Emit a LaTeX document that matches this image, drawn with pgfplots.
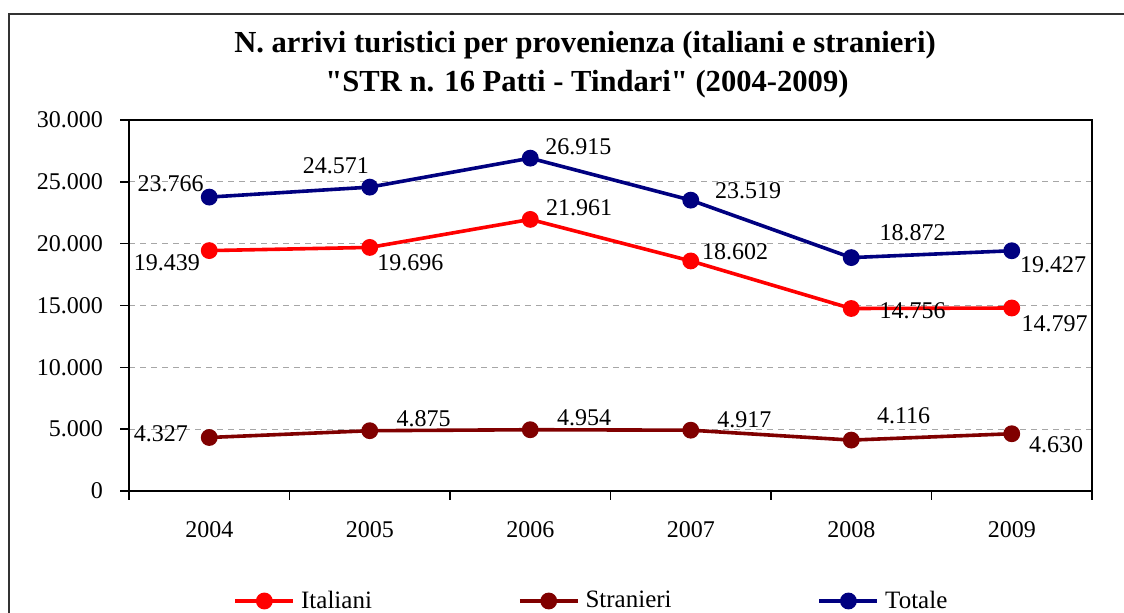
\documentclass[border=0pt]{standalone}
\usepackage{pgfplots}
\pgfplotsset{compat=1.18}
\usepackage{pgfplotstable}
\usepackage{fontspec}
\setmainfont{Liberation Serif}[Ligatures=TeXOff]
\definecolor{cIta}{RGB}{255,0,0}
\definecolor{cStr}{RGB}{128,0,0}
\definecolor{cTot}{RGB}{0,0,128}

\pgfplotstableread{
x y lab dx dy
0 19439 19.439 -21.2 -6.3
1 19696 19.696 20.3 -7.5
2 21961 21.961 24.4 6
3 18602 18.602 22.2 4.8
4 14756 14.756 30.7 -1
5 14797 14.797 21.4 -7.9
}\italiani
\pgfplotstableread{
x y lab dx dy
0 4327 4.327 -24.2 2.1
1 4875 4.875 26.9 6.2
2 4954 4.954 26.9 5.8
3 4917 4.917 26.8 5.3
4 4116 4.116 26.2 12
5 4630 4.630 22.2 -5.5
}\stranieri
\pgfplotstableread{
x y lab dx dy
0 23766 23.766 -19.3 6.8
1 24571 24.571 -17 10.8
2 26915 26.915 24 5.8
3 23519 23.519 28.7 4.5
4 18872 18.872 30.7 12.4
5 19427 19.427 20.7 -6.8
}\totale

\begin{document}
\begin{tikzpicture}[x=1pt,y=1pt]
\useasboundingbox (0,0) rectangle (562,-306.5);
\draw[line width=0.6pt, black!80] (4.5,-310) -- (4.5,-7) -- (565,-7);
\node[font=\fontsize{15.3}{18}\selectfont\bfseries, anchor=base] at (292.5,-26.35) {N. arrivi turistici per provenienza (italiani e stranieri)};
\node[font=\fontsize{15.3}{18}\selectfont\bfseries, anchor=base] at (293.5,-45.85) {"STR n. 16 Patti - Tindari" (2004-2009)};
\begin{axis}[
  at={(64.5pt,-245.5pt)}, anchor=south west,
  scale only axis, width=481.5pt, height=185.5pt,
  xmin=-0.5, xmax=5.5, ymin=0, ymax=30000,
  axis line style={line width=1pt, black},
  xtick={-0.5,0.5,1.5,2.5,3.5,4.5,5.5},
  xticklabels={2004,2005,2006,2007,2008,2009,{}},
  xticklabel style={xshift=40.125pt, yshift=-7pt},
  ytick={0,5000,10000,15000,20000,25000,30000},
  yticklabel style={xshift=-5pt},
  tick align=outside, major tick length=4.5pt,
  tick style={black, line width=0.8pt},
  xtick pos=bottom, ytick pos=left,
  ymajorgrids, grid style={gray!70, dash pattern=on 3pt off 2.5pt, line width=0.6pt},
  tick label style={font=\fontsize{12}{14}\selectfont},
  /pgf/number format/.cd, 1000 sep={.}, assume math mode=true, /pgfplots/.cd,
  scaled y ticks=false,
  clip=false,
  point meta=explicit symbolic,
  nodes near coords,
  visualization depends on={\thisrow{dx} \as \lx},
  visualization depends on={\thisrow{dy} \as \ly},
  every node near coord/.append style={anchor=center, font=\fontsize{12}{14}\selectfont, text=black, xshift=\lx pt, yshift=\ly pt, inner sep=0pt},
  legend columns=3,
  legend style={draw=none, fill=none, at={(0.4823,-0.2965)}, anchor=center,
    font=\fontsize{12.5}{14}\selectfont,
    /tikz/every even column/.append style={column sep=70pt},
    nodes={inner xsep=3pt}},
  legend image code/.code={\draw[mark repeat=2,mark phase=2] plot coordinates {(0pt,0pt) (14.5pt,0pt) (29pt,0pt)};},
]
\addplot[cIta, line width=1.8pt, mark=*, mark size=3.3pt, mark options={solid, fill=cIta, draw=cIta}] table[x=x, y=y, meta=lab] {\italiani};
\addlegendentry{Italiani}
\addplot[cStr, line width=1.8pt, mark=*, mark size=3.3pt, mark options={solid, fill=cStr, draw=cStr}] table[x=x, y=y, meta=lab] {\stranieri};
\addlegendentry{Stranieri}
\addplot[cTot, line width=1.8pt, mark=*, mark size=3.3pt, mark options={solid, fill=cTot, draw=cTot}] table[x=x, y=y, meta=lab] {\totale};
\addlegendentry{Totale}
\end{axis}
\end{tikzpicture}
\end{document}
